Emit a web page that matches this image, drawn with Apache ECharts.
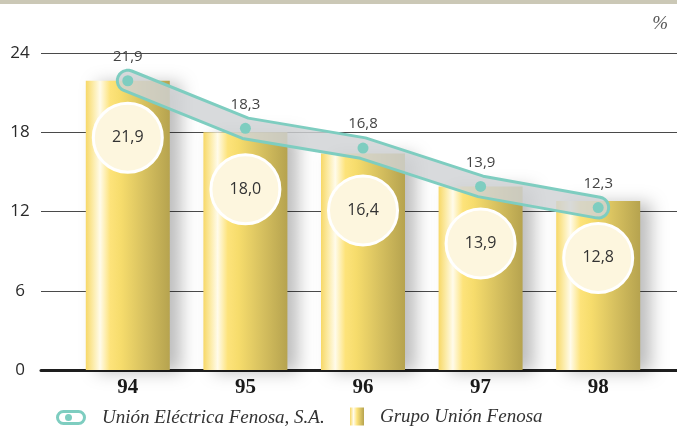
<!DOCTYPE html>
<html>
<head>
<meta charset="utf-8">
<script src="https://cdn.jsdelivr.net/npm/echarts@6/dist/echarts.min.js"></script>
<style>
  html, body { margin: 0; padding: 0; background: #ffffff; }
  #chart { width: 677px; height: 426px; }
</style>
</head>
<body>
<div id="chart"></div>
<script>
// ---- data ----
var years = ['94', '95', '96', '97', '98'];
var grupoUnionFenosa = [21.9, 18.0, 16.4, 13.9, 12.8];
var unionElectricaFenosa = [21.9, 18.3, 16.8, 13.9, 12.3];
var yTicks = [0, 6, 12, 18, 24];
var seriesNames = ['Unión Eléctrica Fenosa, S.A.', 'Grupo Unión Fenosa'];

function fmt(v) { return v.toFixed(1).replace('.', ','); }

var barGradient = new echarts.graphic.LinearGradient(0, 0, 1, 0, [
  { offset: 0.0, color: '#f7d867' },
  { offset: 0.09, color: '#fcecaa' },
  { offset: 0.17, color: '#fffbea' },
  { offset: 0.29, color: '#fde37a' },
  { offset: 0.42, color: '#f6dc6c' },
  { offset: 0.7, color: '#d6c05f' },
  { offset: 1.0, color: '#b6a34f' }
]);
var legendBarGradient = new echarts.graphic.LinearGradient(0, 0, 1, 0, [
  { offset: 0.0, color: '#f7d867' },
  { offset: 0.25, color: '#fffbea' },
  { offset: 0.5, color: '#fde37a' },
  { offset: 1.0, color: '#b6a34f' }
]);

var capsuleIcon = 'path://M7.5 0H22.5A7.5 7.5 0 0 1 22.5 15H7.5A7.5 7.5 0 0 1 7.5 0Z' +
  'M7.5 3A4.5 4.5 0 0 0 7.5 12H22.5A4.5 4.5 0 0 0 22.5 3Z' +
  'M16 7.5A3.5 3.5 0 1 1 9 7.5A3.5 3.5 0 1 1 16 7.5Z';

function bandRender(params, api) {
  if (params.dataIndex !== 0) return null;
  var pts = unionElectricaFenosa.map(function (v, i) { return api.coord([i, v]); });
  var h = 10.5;
  var n = pts.length;
  var segN = [];
  for (var i = 0; i < n - 1; i++) {
    var dx = pts[i + 1][0] - pts[i][0], dy = pts[i + 1][1] - pts[i][1];
    var L = Math.sqrt(dx * dx + dy * dy);
    segN.push([-dy / L, dx / L]);
  }
  var vN = [];
  for (var k = 0; k < n; k++) {
    if (k === 0) { vN.push([segN[0][0] * h, segN[0][1] * h]); continue; }
    if (k === n - 1) { vN.push([segN[n - 2][0] * h, segN[n - 2][1] * h]); continue; }
    var a = segN[k - 1], b = segN[k];
    var mx = a[0] + b[0], my = a[1] + b[1];
    var ml = Math.sqrt(mx * mx + my * my);
    mx /= ml; my /= ml;
    var s = h / (mx * a[0] + my * a[1]);
    vN.push([mx * s, my * s]);
  }
  var poly = [];
  for (var p = 0; p < n; p++) poly.push([pts[p][0] + vN[p][0], pts[p][1] + vN[p][1]]);
  var tE = Math.atan2(segN[n - 2][1], segN[n - 2][0]);
  for (var q = 1; q < 12; q++) {
    var ang = tE - q * Math.PI / 12;
    poly.push([pts[n - 1][0] + h * Math.cos(ang), pts[n - 1][1] + h * Math.sin(ang)]);
  }
  for (var r = n - 1; r >= 0; r--) poly.push([pts[r][0] - vN[r][0], pts[r][1] - vN[r][1]]);
  var tS = Math.atan2(segN[0][1], segN[0][0]);
  for (var w = 1; w < 12; w++) {
    var ang2 = tS + Math.PI - w * Math.PI / 12;
    poly.push([pts[0][0] + h * Math.cos(ang2), pts[0][1] + h * Math.sin(ang2)]);
  }
  return {
    type: 'polygon',
    shape: { points: poly },
    style: { fill: 'rgba(208,210,212,0.82)', stroke: '#7ecdc0', lineWidth: 3, lineJoin: 'round' }
  };
}

var legendText = { fontFamily: 'Liberation Serif', fontStyle: 'italic', fontSize: 19, color: '#333', padding: [0, 0, 0, 11] };

var chart = echarts.init(document.getElementById('chart'), null, { renderer: 'canvas' });
chart.setOption({
  animation: false,
  backgroundColor: '#ffffff',
  textStyle: { fontFamily: 'Open Sans' },
  title: {
    text: '%', right: 4, top: 9,
    textStyle: { fontFamily: 'Liberation Serif', fontStyle: 'italic', fontWeight: 'normal', fontSize: 19, color: '#555' }
  },
  graphic: [{
    type: 'rect', left: 0, top: 0, shape: { width: 677, height: 4 },
    style: { fill: '#cbc8b6' }, silent: true
  }],
  legend: [{
    left: 56, top: 408, padding: 0,
    itemWidth: 30, itemHeight: 15,
    data: [{ name: seriesNames[0], icon: capsuleIcon, itemStyle: { color: '#7ecdc0' } }],
    textStyle: legendText
  }, {
    left: 350, top: 407, padding: 0,
    itemWidth: 14, itemHeight: 18,
    data: [{ name: seriesNames[1], icon: 'rect', itemStyle: { color: legendBarGradient } }],
    textStyle: legendText
  }],
  grid: [
    { left: 41, right: 0, top: 53, bottom: 56 },
    { left: 69, right: 20, top: 53, bottom: 56 }
  ],
  xAxis: [{
    gridIndex: 0, type: 'value', min: 0, max: 1,
    axisLine: { show: true, onZero: false, lineStyle: { color: '#1e1e1e', width: 3 } },
    axisTick: { show: false }, axisLabel: { show: false }, splitLine: { show: false }
  }, {
    gridIndex: 1, type: 'category', data: years,
    axisLine: { show: false }, axisTick: { show: false }, splitLine: { show: false },
    axisLabel: { margin: 7, fontFamily: 'Liberation Serif', fontWeight: 'bold', fontSize: 21, color: '#1a1a1a' }
  }],
  yAxis: [{
    gridIndex: 0, type: 'value', min: yTicks[0], max: yTicks[yTicks.length - 1], interval: 6,
    axisLine: { show: false }, axisTick: { show: false },
    axisLabel: { margin: 21, align: 'center', fontSize: 17, color: '#2a2a2a' },
    splitLine: { show: true, lineStyle: { color: '#4a4a4a', width: 1 } }
  }, {
    gridIndex: 1, type: 'value', min: yTicks[0], max: yTicks[yTicks.length - 1], interval: 6,
    show: false, splitLine: { show: false }
  }],
  series: [{
    name: seriesNames[1], type: 'bar', xAxisIndex: 1, yAxisIndex: 1,
    data: grupoUnionFenosa, barWidth: 84, z: 2,
    itemStyle: { color: barGradient, shadowColor: 'rgba(0,0,0,0.26)', shadowBlur: 16, shadowOffsetX: 11, shadowOffsetY: 2 }
  }, {
    name: seriesNames[1], type: 'scatter', xAxisIndex: 1, yAxisIndex: 1,
    data: grupoUnionFenosa, symbol: 'circle', symbolSize: 69, symbolOffset: [0, 57], z: 3,
    itemStyle: { color: '#fdf6de', borderColor: '#ffffff', borderWidth: 3, opacity: 1 },
    label: { show: true, position: 'inside', formatter: function (p) { return fmt(p.value); }, fontSize: 16, color: '#333' },
    emphasis: { disabled: true }
  }, {
    name: seriesNames[0], type: 'custom', xAxisIndex: 1, yAxisIndex: 1,
    data: unionElectricaFenosa.map(function (v, i) { return [i, v]; }),
    renderItem: bandRender, z: 4, clip: false, silent: true
  }, {
    name: seriesNames[0], type: 'line', xAxisIndex: 1, yAxisIndex: 1,
    data: unionElectricaFenosa, z: 5,
    symbol: 'circle', symbolSize: 11, showSymbol: true,
    itemStyle: { color: '#7ecdc0' },
    lineStyle: { width: 0, opacity: 0 },
    label: { show: true, position: 'top', distance: 11, formatter: function (p) { return fmt(p.value); }, fontSize: 15, color: '#444' },
    emphasis: { disabled: true }
  }]
});
</script>
</body>
</html>
